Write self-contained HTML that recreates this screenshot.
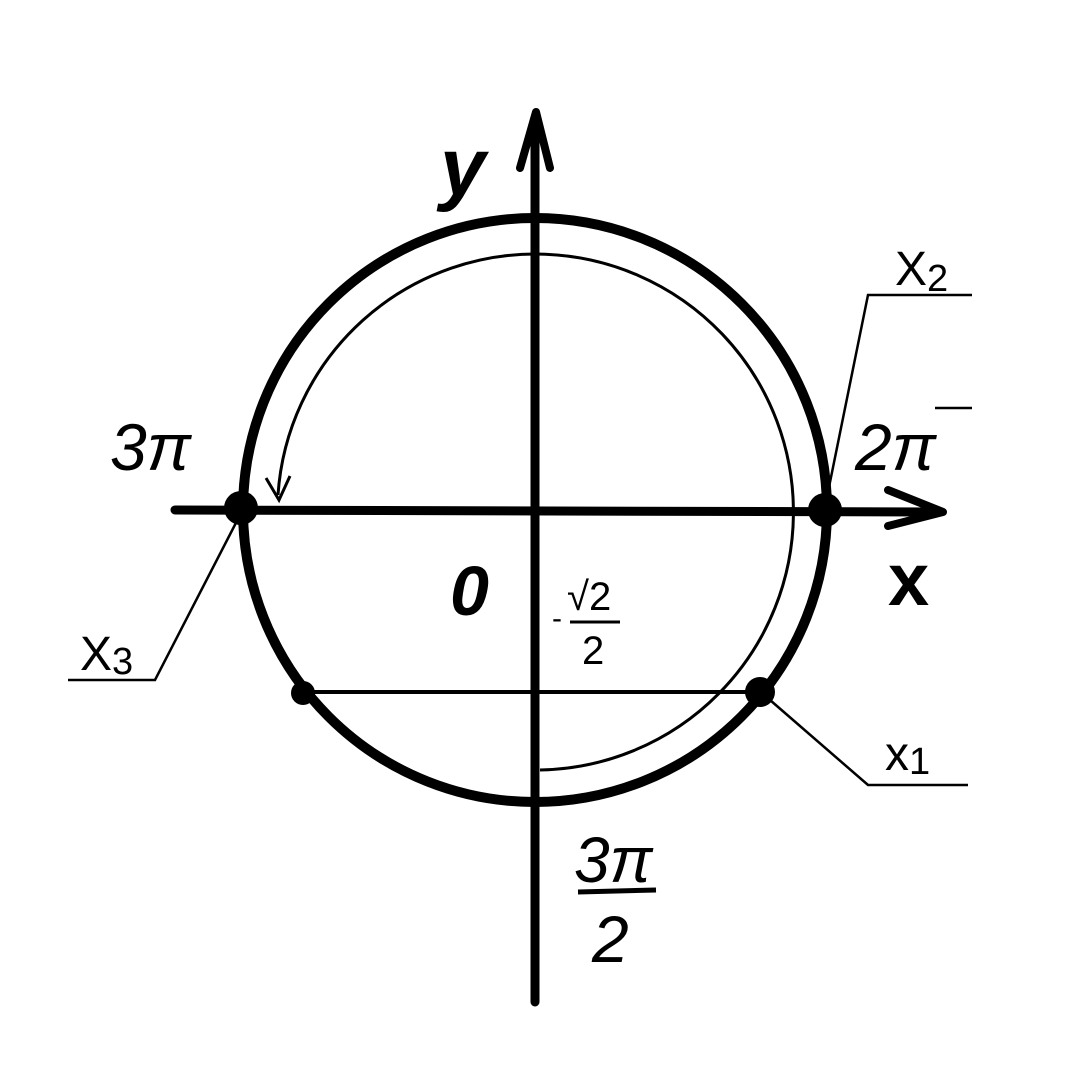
<!DOCTYPE html>
<html><head><meta charset="utf-8"><style>
html,body{margin:0;padding:0;background:#fff;}
svg{display:block;}
text{font-family:"Liberation Sans",sans-serif;fill:#000;}
</style></head><body>
<svg width="1080" height="1071" viewBox="0 0 1080 1071" xmlns="http://www.w3.org/2000/svg">
<rect width="1080" height="1071" fill="#fff"/>
<!-- main circle -->
<ellipse cx="535" cy="510" rx="292" ry="292" fill="none" stroke="#000" stroke-width="10"/>
<!-- inner arc -->
<path d="M 278 495 A 258 258 0 1 1 540 770" fill="none" stroke="#000" stroke-width="3"/>
<path d="M 266 478 L 279 500 L 290 476" fill="none" stroke="#000" stroke-width="3"/>
<!-- axes -->
<line x1="535" y1="120" x2="535" y2="1002" stroke="#000" stroke-width="9" stroke-linecap="round"/>
<path d="M 520 168 L 536 112 L 550 168" fill="none" stroke="#000" stroke-width="8" stroke-linecap="round" stroke-linejoin="round"/>
<line x1="175" y1="510" x2="938" y2="512" stroke="#000" stroke-width="9" stroke-linecap="round"/>
<path d="M 888 490 L 943 512 L 888 526" fill="none" stroke="#000" stroke-width="8" stroke-linecap="round" stroke-linejoin="round"/>
<!-- chord -->
<line x1="303" y1="692" x2="760" y2="692" stroke="#000" stroke-width="4"/>
<!-- points -->
<circle cx="241" cy="508" r="17" fill="#000"/>
<circle cx="825" cy="510" r="17" fill="#000"/>
<circle cx="303" cy="693" r="12" fill="#000"/>
<circle cx="760" cy="692" r="15" fill="#000"/>
<!-- leaders -->
<polyline points="828,492 868,295 972,295" fill="none" stroke="#000" stroke-width="2.5"/>
<polyline points="240,515 155,680 68,680" fill="none" stroke="#000" stroke-width="2.5"/>
<polyline points="770,700 868,785 968,785" fill="none" stroke="#000" stroke-width="2.5"/>
<line x1="935" y1="408" x2="972" y2="408" stroke="#000" stroke-width="2.5"/>
<!-- labels -->
<text x="440" y="195" font-size="82" font-weight="bold" font-style="italic">y</text>
<text x="888" y="605" font-size="74" font-weight="bold">x</text>
<text x="450" y="615" font-size="70" font-weight="bold" font-style="italic">0</text>
<text x="110" y="470" font-size="66" font-style="italic">3π</text>
<text x="855" y="470" font-size="66" font-style="italic">2π</text>
<text x="895" y="285" font-size="48">X<tspan font-size="38" dy="6">2</tspan></text>
<text x="80" y="670" font-size="48">X<tspan font-size="38" dy="4">3</tspan></text>
<text x="885" y="770" font-size="48">x<tspan font-size="38" dy="4">1</tspan></text>
<text x="552" y="628" font-size="30">-</text>
<text x="567" y="610" font-size="40">√2</text>
<line x1="570" y1="622" x2="620" y2="622" stroke="#000" stroke-width="3"/>
<text x="582" y="664" font-size="40">2</text>
<text x="574" y="882" font-size="64" font-style="italic">3π</text>
<line x1="578" y1="892" x2="656" y2="890" stroke="#000" stroke-width="5"/>
<text x="592" y="962" font-size="66" font-style="italic">2</text>
</svg>
</body></html>
